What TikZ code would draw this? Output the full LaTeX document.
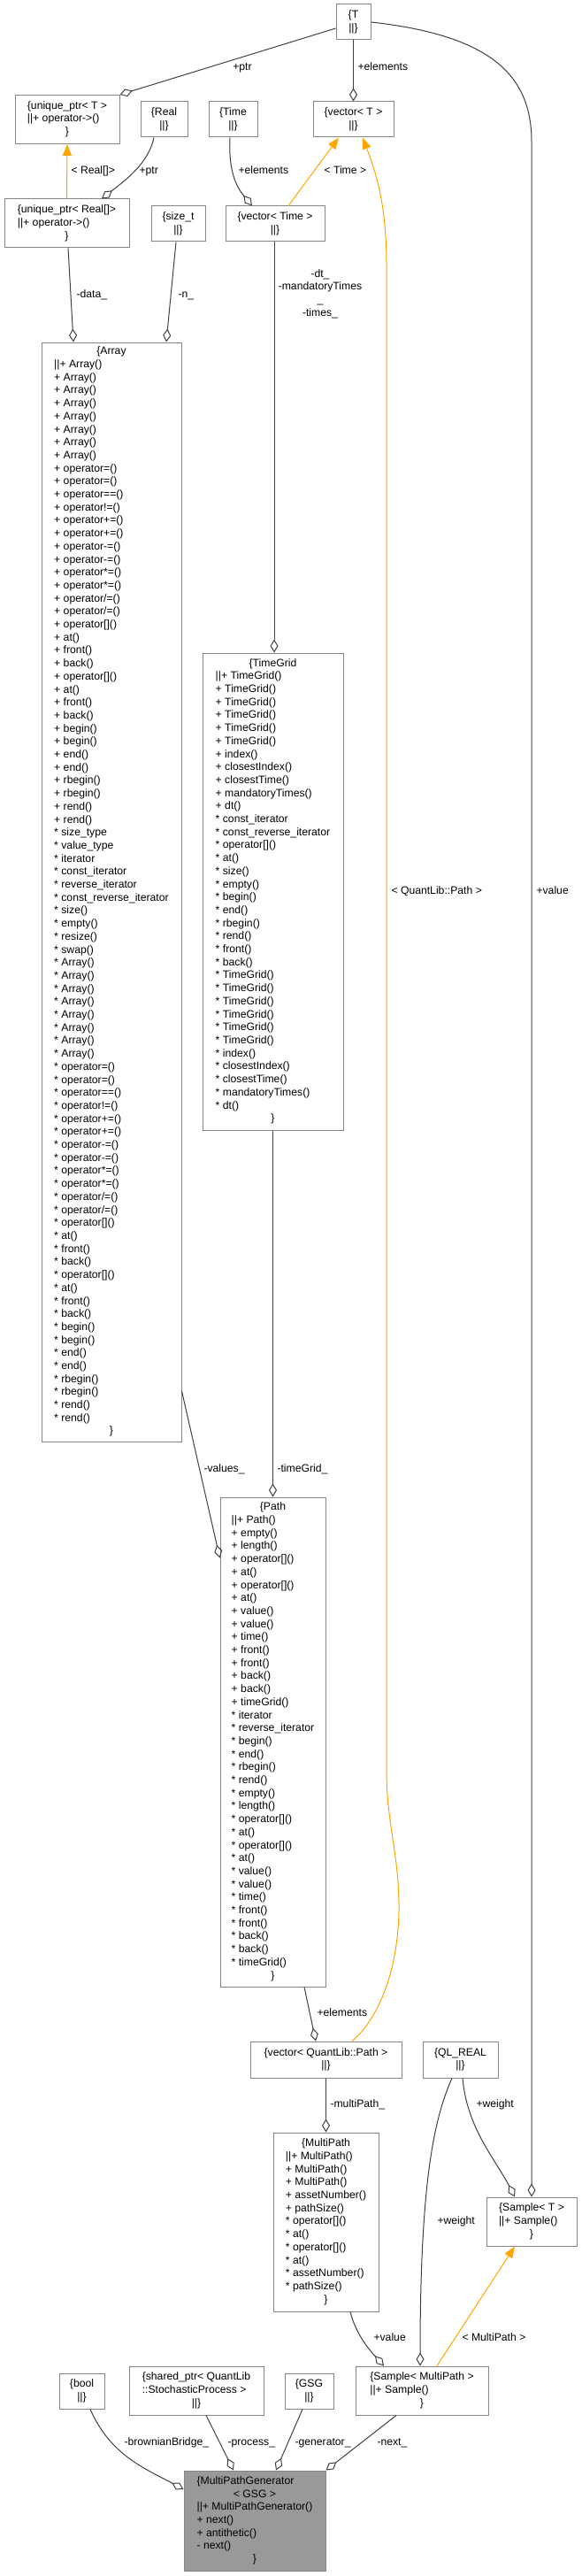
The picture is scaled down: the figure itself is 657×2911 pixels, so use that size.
\documentclass[tikz,border=0pt]{standalone}
\usepackage{fontspec}
\setmainfont{Liberation Sans}
\usetikzlibrary{arrows.meta}
\definecolor{boxline}{HTML}{858585}
\definecolor{edgeline}{HTML}{404040}
\definecolor{instline}{HTML}{FFA500}
\definecolor{current}{HTML}{999999}
\newcommand{\doxyfont}{\fontsize{12.2}{14.7}\selectfont}
\newcommand{\ctrline}[1]{\multicolumn{1}{@{}c@{}}{#1}}
\newcommand{\classrec}[1]{\begin{tabular}{@{}l@{}}#1\end{tabular}}

\begin{document}
\begin{tikzpicture}[x=1pt,y=-1pt,line width=1pt,
		cls/.style={draw=boxline,fill=white,rectangle,inner sep=0pt,font=\doxyfont},
		lbl/.style={font=\doxyfont,inner sep=0pt,anchor=west,text height=9pt,text depth=2.5pt},
		agg/.style={draw=edgeline,-{Diamond[open,length=15pt,width=9pt]}},
		inst/.style={draw=instline,-{Triangle[length=13pt,width=10pt]}}]

	\useasboundingbox (0,0) rectangle (657,2911);

	% top row of templates
	\node[cls,minimum width=39pt,minimum height=40pt] (T) at (399.5,25) {\classrec{\ctrline{\{T}\\\ctrline{||\}}}};
	\node[cls,minimum width=118pt,minimum height=55pt] (uptrT) at (76,135) {\classrec{\ctrline{\{unique\_ptr< T >}\\||+ operator->()\\\ctrline{\}}}};
	\node[cls,minimum width=53pt,minimum height=40pt] (Real) at (185.5,135) {\classrec{\ctrline{\{Real}\\\ctrline{||\}}}};
	\node[cls,minimum width=55pt,minimum height=40pt] (Time) at (263.5,135) {\classrec{\ctrline{\{Time}\\\ctrline{||\}}}};
	\node[cls,minimum width=91pt,minimum height=40pt] (vecT) at (399.5,135) {\classrec{\ctrline{\{vector< T >}\\\ctrline{||\}}}};

	\node[cls,minimum width=141pt,minimum height=55pt] (uptrReal) at (75.5,252.5) {\classrec{\ctrline{\{unique\_ptr< Real[]>}\\||+ operator->()\\\ctrline{\}}}};
	\node[cls,minimum width=61pt,minimum height=40pt] (sizet) at (201.5,253) {\classrec{\ctrline{\{size\_t}\\\ctrline{||\}}}};
	\node[cls,minimum width=112pt,minimum height=40pt] (vecTime) at (311,253) {\classrec{\ctrline{\{vector< Time >}\\\ctrline{||\}}}};

	% big classes
	\node[cls,minimum width=158pt,minimum height=1242pt] (Array) at (126,1008) {\classrec{\ctrline{\{Array}\\
		||+ Array()\\+ Array()\\+ Array()\\+ Array()\\+ Array()\\+ Array()\\+ Array()\\+ Array()\\
		+ operator=()\\+ operator=()\\+ operator==()\\+ operator!=()\\
		+ operator+=()\\+ operator+=()\\+ operator-=()\\+ operator-=()\\
		+ operator*=()\\+ operator*=()\\+ operator/=()\\+ operator/=()\\
		+ operator[]()\\+ at()\\+ front()\\+ back()\\
		+ operator[]()\\+ at()\\+ front()\\+ back()\\
		+ begin()\\+ begin()\\+ end()\\+ end()\\+ rbegin()\\+ rbegin()\\+ rend()\\+ rend()\\
		{*} size\_type\\{*} value\_type\\{*} iterator\\{*} const\_iterator\\
		{*} reverse\_iterator\\{*} const\_reverse\_iterator\\
		{*} size()\\{*} empty()\\{*} resize()\\{*} swap()\\
		{*} Array()\\{*} Array()\\{*} Array()\\{*} Array()\\{*} Array()\\{*} Array()\\{*} Array()\\{*} Array()\\
		{*} operator=()\\{*} operator=()\\{*} operator==()\\{*} operator!=()\\
		{*} operator+=()\\{*} operator+=()\\{*} operator-=()\\{*} operator-=()\\
		{*} operator*=()\\{*} operator*=()\\{*} operator/=()\\{*} operator/=()\\
		{*} operator[]()\\{*} at()\\{*} front()\\{*} back()\\
		{*} operator[]()\\{*} at()\\{*} front()\\{*} back()\\
		{*} begin()\\{*} begin()\\{*} end()\\{*} end()\\{*} rbegin()\\{*} rbegin()\\{*} rend()\\{*} rend()\\
		\ctrline{\}}}};

	\node[cls,minimum width=159pt,minimum height=539pt] (TimeGrid) at (308.5,1007.5) {\classrec{\ctrline{\{TimeGrid}\\
		||+ TimeGrid()\\+ TimeGrid()\\+ TimeGrid()\\+ TimeGrid()\\+ TimeGrid()\\+ TimeGrid()\\
		+ index()\\+ closestIndex()\\+ closestTime()\\+ mandatoryTimes()\\+ dt()\\
		{*} const\_iterator\\{*} const\_reverse\_iterator\\{*} operator[]()\\{*} at()\\
		{*} size()\\{*} empty()\\{*} begin()\\{*} end()\\{*} rbegin()\\{*} rend()\\{*} front()\\{*} back()\\
		{*} TimeGrid()\\{*} TimeGrid()\\{*} TimeGrid()\\{*} TimeGrid()\\{*} TimeGrid()\\{*} TimeGrid()\\
		{*} index()\\{*} closestIndex()\\{*} closestTime()\\{*} mandatoryTimes()\\{*} dt()\\
		\ctrline{\}}}};

	\node[cls,minimum width=119pt,minimum height=553pt] (Path) at (308.5,1968.5) {\classrec{\ctrline{\{Path}\\
		||+ Path()\\+ empty()\\+ length()\\+ operator[]()\\+ at()\\+ operator[]()\\+ at()\\
		+ value()\\+ value()\\+ time()\\+ front()\\+ front()\\+ back()\\+ back()\\+ timeGrid()\\
		{*} iterator\\{*} reverse\_iterator\\{*} begin()\\{*} end()\\{*} rbegin()\\{*} rend()\\
		{*} empty()\\{*} length()\\{*} operator[]()\\{*} at()\\{*} operator[]()\\{*} at()\\
		{*} value()\\{*} value()\\{*} time()\\{*} front()\\{*} front()\\{*} back()\\{*} back()\\{*} timeGrid()\\
		\ctrline{\}}}};

	% lower part
	\node[cls,minimum width=171pt,minimum height=41pt] (vecPath) at (368.5,2327.5) {\classrec{\ctrline{\{vector< QuantLib::Path >}\\\ctrline{||\}}}};
	\node[cls,minimum width=85pt,minimum height=41pt] (QLREAL) at (520.5,2327.5) {\classrec{\ctrline{\{QL\_REAL}\\\ctrline{||\}}}};
	\node[cls,minimum width=119pt,minimum height=202pt] (MultiPath) at (368.5,2511) {\classrec{\ctrline{\{MultiPath}\\
		||+ MultiPath()\\+ MultiPath()\\+ MultiPath()\\+ assetNumber()\\+ pathSize()\\
		{*} operator[]()\\{*} at()\\{*} operator[]()\\{*} at()\\{*} assetNumber()\\{*} pathSize()\\
		\ctrline{\}}}};
	\node[cls,minimum width=102pt,minimum height=55pt] (SampleT) at (601,2510.5) {\classrec{\ctrline{\{Sample< T >}\\||+ Sample()\\\ctrline{\}}}};
	\node[cls,minimum width=150pt,minimum height=55pt] (SampleMP) at (477,2701.5) {\classrec{\ctrline{\{Sample< MultiPath >}\\||+ Sample()\\\ctrline{\}}}};
	\node[cls,minimum width=51pt,minimum height=40pt] (bool) at (92.5,2702) {\classrec{\ctrline{\{bool}\\\ctrline{||\}}}};
	\node[cls,minimum width=152pt,minimum height=55pt] (sptr) at (222,2701.5) {\classrec{\{shared\_ptr< QuantLib\\::StochasticProcess >\\\ctrline{||\}}}};
	\node[cls,minimum width=55pt,minimum height=40pt] (GSG) at (349.5,2702) {\classrec{\ctrline{\{GSG}\\\ctrline{||\}}}};
	\node[cls,fill=current,minimum width=160pt,minimum height=113pt] (MPG) at (288,2848.5) {\classrec{\{MultiPathGenerator\\\ctrline{< GSG >}\\
		||+ MultiPathGenerator()\\+ next()\\+ antithetic()\\- next()\\\ctrline{\}}}};

	% connectors
	\draw[agg] ([yshift=-7pt]T.west) -- (uptrT.north east) node[lbl,anchor=center] at (274,76) {+ptr};
	\draw[agg] (T.south) -- (vecT.north) node[lbl] at (404,76) {+elements};
	\draw[agg] (T.east) .. controls (555,40) and (601,85) .. (601,160) -- (SampleT.north) node[lbl] at (606,1007) {+value};
	\draw[inst] (uptrReal.north) -- (uptrT.south) node[lbl] at (80,193) {< Real[]>};
	\draw[agg] ([xshift=-11.5pt]Real.south) .. controls (168,185) and (140,205) .. ([xshift=39.5pt]uptrReal.north) node[lbl] at (157,193) {+ptr};
	\draw[agg] ([xshift=-3.5pt]Time.south) .. controls (258,195) and (268,212) .. ([xshift=-26pt]vecTime.north) node[lbl] at (269,193) {+elements};
	\draw[inst] ([xshift=15pt]vecTime.north) -- ([xshift=-16.5pt]vecT.south) node[lbl] at (366,193) {< Time >};
	\draw[inst] ([xshift=29.5pt]vecPath.north) .. controls (430,2280) and (452,2220) .. (451,2150)
		.. controls (450,2090) and (437,2060) .. (437,2000) -- (437,300)
		.. controls (437,230) and (425,195) .. ([xshift=10.5pt]vecT.south) node[lbl] at (442,1007) {< QuantLib::Path >};
	\draw[agg] ([xshift=1.5pt]uptrReal.south) -- ([xshift=-43pt]Array.north) node[lbl] at (86,333) {-data\_};
	\draw[agg] ([xshift=-2.5pt]sizet.south) -- ([xshift=62pt]Array.north) node[lbl] at (201,333) {-n\_};
	\draw[agg] ([xshift=-1pt]vecTime.south) -- ([xshift=1.5pt]TimeGrid.north)
		node[lbl,anchor=center,align=center,text height=,text depth=] at (362,332) {-dt\_\\-mandatoryTimes\\\_\\-times\_};
	\draw[agg] (TimeGrid.south) -- (Path.north) node[lbl] at (313,1660) {-timeGrid\_};
	\draw[agg] ([yshift=-564pt]Array.east) -- ([yshift=208pt]Path.west) node[lbl] at (230,1660) {-values\_};
	\draw[agg] ([xshift=35.5pt]Path.south) -- ([xshift=-11.5pt]vecPath.north) node[lbl] at (358,2275) {+elements};
	\draw[agg] (vecPath.south) -- (MultiPath.north) node[lbl] at (373,2378) {-multiPath\_};
	\draw[agg] ([xshift=27.5pt]MultiPath.south) .. controls (403,2640) and (420,2658) .. ([xshift=-43pt]SampleMP.north) node[lbl] at (422,2642) {+value};
	\draw[agg] ([xshift=-9.5pt]QLREAL.south) .. controls (490,2395) and (475,2470) .. ([xshift=-2pt]SampleMP.north) node[lbl] at (494,2510) {+weight};
	\draw[agg] ([xshift=2.5pt]QLREAL.south) .. controls (528,2405) and (560,2440) .. ([xshift=-19pt]SampleT.north) node[lbl] at (538,2378) {+weight};
	\draw[inst] ([xshift=17pt]SampleMP.north) -- ([xshift=-19pt]SampleT.south) node[lbl] at (522,2642) {< MultiPath >};
	\draw[agg] ([xshift=9.5pt]bool.south) .. controls (125,2775) and (165,2790) .. ([yshift=35.5pt]MPG.west) node[lbl] at (140,2760) {-brownianBridge\_};
	\draw[agg] ([xshift=11pt]sptr.south) -- ([xshift=-24pt]MPG.north) node[lbl] at (257,2760) {-process\_};
	\draw[agg] ([xshift=-7.5pt]GSG.south) -- ([xshift=24pt]MPG.north) node[lbl] at (333,2760) {-generator\_};
	\draw[agg] ([xshift=-29pt]SampleMP.south) -- (MPG.north east) node[lbl] at (426,2760) {-next\_};

\end{tikzpicture}
\end{document}
